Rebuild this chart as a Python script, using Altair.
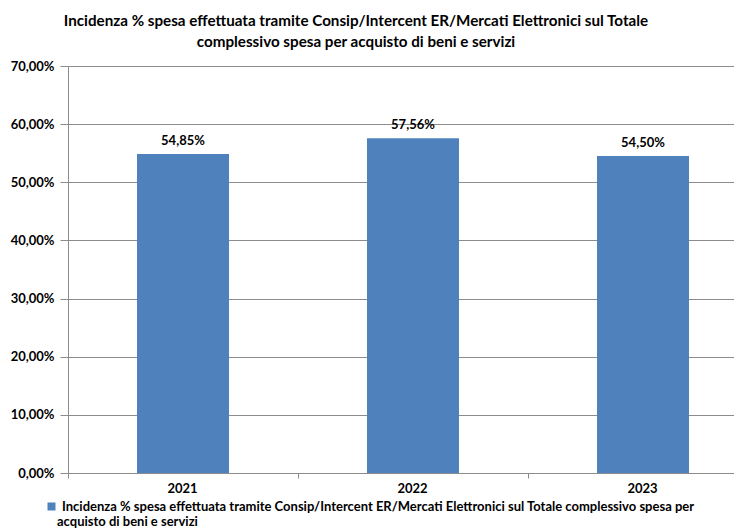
import altair as alt
import pandas as pd

years = ["2021", "2022", "2023"]
values = [54.85, 57.56, 54.50]
series = "Incidenza % spesa effettuata tramite Consip/Intercent ER/Mercati Elettronici sul Totale complessivo spesa per acquisto di beni e servizi"
legend_line1 = "Incidenza % spesa effettuata tramite Consip/Intercent ER/Mercati Elettronici sul Totale complessivo spesa per"
legend_line2 = ["acquisto di beni e servizi"]
title_lines = ["Incidenza % spesa effettuata tramite Consip/Intercent ER/Mercati Elettronici sul Totale",
               "complessivo spesa per acquisto di beni e servizi"]
y_ticks = [0, 10, 20, 30, 40, 50, 60, 70]

df = pd.DataFrame({"anno": years, "valore": values, "serie": [series] * 3})

FONT = "Lato"
BLUE = "#4F81BD"
GRAY = "#8C8C8C"

base = alt.Chart(df).encode(
    x=alt.X("anno:N", title=None,
            scale=alt.Scale(paddingInner=0.6, paddingOuter=0.3, range=[0, 690]),
            axis=alt.Axis(labelAngle=0, bandPosition=0, tickOffset=-69, labelOffset=68,
                          domainColor=GRAY, tickColor=GRAY, tickSize=5,
                          labelFont=FONT, labelFontWeight="bold", labelFontSize=13,
                          labelColor="#000", labelPadding=4, grid=False)),
)

bars = base.mark_bar(color=BLUE).encode(
    y=alt.Y("valore:Q", title=None,
            scale=alt.Scale(domain=[0, 70], nice=False),
            axis=alt.Axis(values=y_ticks,
                          labelExpr="replace(format(datum.value, '.2f'), '.', ',') + '%'",
                          gridColor=GRAY, domainColor=GRAY, tickColor=GRAY, tickSize=8,
                          labelFont=FONT, labelFontWeight="bold", labelFontSize=13,
                          labelColor="#000", labelPadding=6)),
    color=alt.Color("serie:N", scale=alt.Scale(range=[BLUE]),
                    legend=alt.Legend(title=None, orient="none", legendX=-23, legendY=434,
                                      padding=0, symbolType="square", symbolSize=64,
                                      symbolStrokeWidth=0, symbolOffset=0, labelOffset=4,
                                      labelFont=FONT, labelFontWeight="bold", labelFontSize=13,
                                      labelColor="#000", labelLimit=800,
                                      labelExpr="'" + legend_line1 + "'")),
)

labels = base.mark_text(dy=-6, baseline="bottom", font=FONT, fontWeight="bold",
                        fontSize=13, color="#000").transform_calculate(
    lab="replace(format(datum.valore, '.2f'), '.', ',') + '%'"
).encode(y="valore:Q", text="lab:N")

line2 = alt.Chart(pd.DataFrame({"t": legend_line2})).mark_text(
    align="left", baseline="middle", font=FONT, fontWeight="bold", fontSize=13, color="#000"
).encode(text="t:N", x=alt.value(-11), y=alt.value(456))

chart = (bars + labels + line2).properties(
    width=666, height=407,
    autosize=alt.AutoSizeParams(type="none"),
    padding={"left": 60, "top": 58, "right": 0, "bottom": 57},
    title=alt.TitleParams(title_lines, anchor="middle", dx=-45, font=FONT, fontWeight="bold",
                          fontSize=15.2, color="#000", lineHeight=21, offset=10),
).configure_view(stroke=None)

chart.save("out.html", embed_options={"renderer": "svg", "actions": False})
